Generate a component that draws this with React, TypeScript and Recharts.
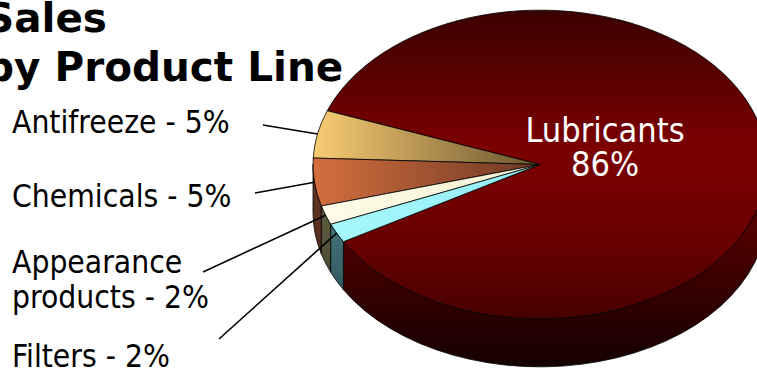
import React from "react";
import { Pie, PieChart } from "recharts";

// Sales share by product line (percent)
const PRODUCTS = ["Lubricants", "Antifreeze", "Chemicals", "Appearance products", "Filters"];
const SHARES = [86, 5, 5, 2, 2];

const data = PRODUCTS.map((name, i) => ({ name, value: SHARES[i] }));

// look of the tilted pie
const TILT = 0.68; // vertical squash of the disc
const DEPTH = 48; // thickness of the disc in px

const TOP_STOPS: Record<string, [string, string][]> = {
  Lubricants: [["0", "#3a0000"], ["0.45", "#7c0000"], ["0.75", "#680000"], ["1", "#470000"]],
  Antifreeze: [["0", "#f9cc72"], ["1", "#6a5530"]],
  Chemicals: [["0", "#d46e3d"], ["1", "#6c3926"]],
  "Appearance products": [["0", "#fffde8"], ["1", "#f3efd2"]],
  Filters: [["0", "#a9f9ff"], ["1", "#94ecf4"]],
};
const SIDE_STOPS: Record<string, [string, string][]> = {
  Lubricants: [["0", "#5c0000"], ["1", "#140000"]],
  Antifreeze: [["0", "#6a5530"], ["1", "#3a2e18"]],
  Chemicals: [["0", "#5e3322"], ["1", "#3a1e12"]],
  "Appearance products": [["0", "#5e5c40"], ["1", "#34331f"]],
  Filters: [["0", "#4a7a82"], ["1", "#1f3c42"]],
};

// where the outside labels sit and where their leader lines start
const LABEL_LAYOUT: Record<string, { x: number; y: number; lx: number; ly: number; wrap?: boolean }> = {
  Antifreeze: { x: 12, y: 133, lx: 263, ly: 125 },
  Chemicals: { x: 12, y: 207, lx: 255, ly: 193 },
  "Appearance products": { x: 12, y: 273, lx: 203, ly: 272, wrap: true },
  Filters: { x: 12, y: 367, lx: 219, ly: 339 },
};

const LABEL_FONT = "'DejaVu Sans Condensed', 'DejaVu Sans', sans-serif";
const TITLE_FONT = "'DejaVu Sans', sans-serif";

function pt(cx: number, cy: number, r: number, a: number, dy = 0) {
  const rad = (a * Math.PI) / 180;
  return [cx + r * Math.cos(rad), cy - r * TILT * Math.sin(rad) + dy];
}

function Slice3D(props: any) {
  const { cx, cy, outerRadius: r, startAngle, endAngle } = props;
  const name: string = props.payload?.name ?? props.name;
  const key = name.replace(/\s/g, "");
  const a0 = Math.min(startAngle, endAngle);
  const a1 = Math.max(startAngle, endAngle);
  const ry = r * TILT;

  const [x0, y0] = pt(cx, cy, r, a0);
  const [x1, y1] = pt(cx, cy, r, a1);
  const top = `M${cx},${cy} L${x0},${y0} A${r},${ry} 0 ${a1 - a0 > 180 ? 1 : 0} 0 ${x1},${y1} Z`;

  // front-facing wall: the part of the arc in the lower half of the disc
  const sides: string[] = [];
  for (let n = -1; n <= 1; n++) {
    const lo = Math.max(a0, 180 + 360 * n);
    const hi = Math.min(a1, 360 + 360 * n);
    if (hi <= lo) continue;
    const [sx, sy] = pt(cx, cy, r, lo);
    const [ex, ey] = pt(cx, cy, r, hi);
    const big = hi - lo > 180 ? 1 : 0;
    sides.push(
      `M${sx},${sy} A${r},${ry} 0 ${big} 0 ${ex},${ey} L${ex},${ey + DEPTH} A${r},${ry} 0 ${big} 1 ${sx},${sy + DEPTH} Z`
    );
  }

  const vertical = name === "Lubricants";
  return (
    <g>
      <defs>
        <linearGradient
          id={`top-${key}`}
          gradientUnits="userSpaceOnUse"
          x1={vertical ? cx : cx - r}
          y1={vertical ? cy - ry : cy}
          x2={cx}
          y2={vertical ? cy + ry : cy}
        >
          {TOP_STOPS[name].map(([o, c]) => (
            <stop key={o} offset={o} stopColor={c} />
          ))}
        </linearGradient>
        <linearGradient id={`side-${key}`} gradientUnits="userSpaceOnUse" x1={cx} y1={cy + 40} x2={cx} y2={cy + ry + DEPTH}>
          {SIDE_STOPS[name].map(([o, c]) => (
            <stop key={o} offset={o} stopColor={c} />
          ))}
        </linearGradient>
      </defs>
      {sides.map((d, i) => (
        <path key={i} d={d} fill={`url(#side-${key})`} stroke="#000" strokeWidth={0.8} />
      ))}
      <path d={top} fill={`url(#top-${key})`} stroke="#000" strokeWidth={0.8} />
    </g>
  );
}

function renderLabel(props: any) {
  const { cx, cy, midAngle, outerRadius, percent } = props;
  const name: string = props.payload?.name ?? props.name;
  const pct = Math.round(percent * 100);
  if (name === "Lubricants") {
    return (
      <text x={605} y={142} textAnchor="middle" fill="#fff" fontFamily={LABEL_FONT} fontStretch="condensed" fontSize={34}>
        <tspan x={605}>{name}</tspan>
        <tspan x={605} dy={34}>{`${pct}%`}</tspan>
      </text>
    );
  }
  const lay = LABEL_LAYOUT[name];
  const [ex, ey] = pt(cx, cy, outerRadius, midAngle);
  const text = `${name} - ${pct}%`;
  const cut = text.indexOf(" ");
  const lines = lay.wrap ? [text.slice(0, cut), text.slice(cut + 1)] : [text];
  return (
    <g>
      <line x1={lay.lx} y1={lay.ly} x2={ex} y2={ey} stroke="#000" strokeWidth={1.6} />
      <text x={lay.x} y={lay.y} fill="#000" fontFamily={LABEL_FONT} fontStretch="condensed" fontSize={31.5}>
        {lines.map((l, i) => (
          <tspan key={i} x={lay.x} dy={i === 0 ? 0 : 35}>
            {l}
          </tspan>
        ))}
      </text>
    </g>
  );
}

export default function App() {
  return (
    <div style={{ position: "absolute", left: 0, top: 0, width: 757, height: 370, overflow: "hidden", background: "#fff" }}>
      <PieChart width={757} height={370} margin={{ top: 0, right: 0, bottom: 0, left: 0 }}>
        <Pie
          data={data}
          dataKey="value"
          nameKey="name"
          cx={540}
          cy={164.5}
          outerRadius={227}
          startAngle={-150}
          endAngle={210}
          shape={Slice3D}
          activeShape={Slice3D}
          inactiveShape={Slice3D}
          label={renderLabel}
          labelLine={false}
          isAnimationActive={false}
        />
      </PieChart>
      <svg width={757} height={100} style={{ position: "absolute", left: 0, top: 0, pointerEvents: "none" }}>
        <text x={-15} y={32} fontFamily={TITLE_FONT} fontWeight="bold" fontSize={40.5}>
          Sales
        </text>
        <text x={-15} y={81} fontFamily={TITLE_FONT} fontWeight="bold" fontSize={40.5}>
          by Product Line
        </text>
      </svg>
    </div>
  );
}
